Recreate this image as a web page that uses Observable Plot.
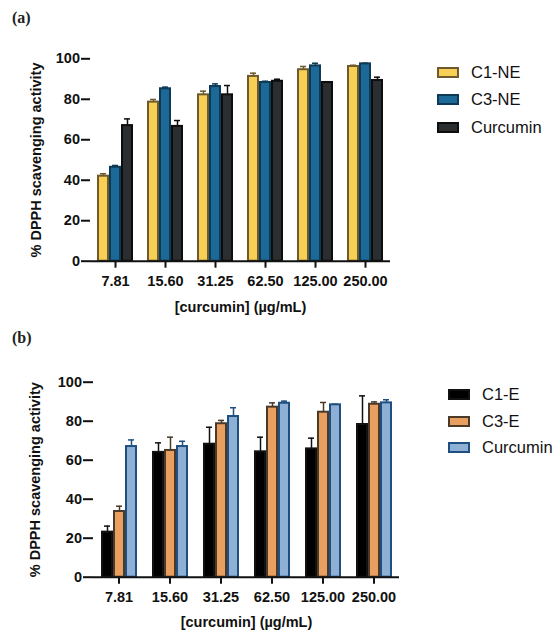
<!DOCTYPE html>
<html><head><meta charset="utf-8">
<script src="https://cdn.jsdelivr.net/npm/d3@7"></script>
<script src="https://cdn.jsdelivr.net/npm/@observablehq/plot@0.6"></script>
<style>
body{margin:0;background:#fff;}
#root{position:relative;width:559px;height:630px;overflow:hidden;font-family:"Liberation Sans",Arial,sans-serif;}
.panel{position:absolute;left:0;}
.tag{position:absolute;font-family:"Liberation Serif","Times New Roman",serif;font-weight:bold;font-size:16px;line-height:16px;color:#222;}
.legend-item{position:absolute;height:20px;display:flex;align-items:center;font-size:16.5px;color:#111;white-space:nowrap;}
.sw{width:18px;height:7px;border:2px solid;margin-right:12px;}
</style></head><body><div id="root"></div>
<script>
// ---------- data ----------
const concentrations = ["7.81", "15.60", "31.25", "62.50", "125.00", "250.00"];
const yTicks = [0, 20, 40, 60, 80, 100];

// panel (a)
const seriesA = ["C1-NE", "C3-NE", "Curcumin"];
const c1ne = [42.0, 78.6, 82.2, 91.3, 94.6, 96.2];
const c1neErr = [1.2, 1.3, 1.8, 1.6, 1.6, 0.6];
const c3ne = [46.4, 85.2, 86.3, 88.3, 96.5, 97.5];
const c3neErr = [0.9, 0.8, 1.3, 0.6, 1.3, 0.3];
const curA = [67.0, 66.6, 82.2, 88.9, 88.3, 89.3];
const curAErr = [3.3, 2.9, 4.6, 1.0, 0.3, 1.6];

// panel (b)
const seriesB = ["C1-E", "C3-E", "Curcumin"];
const c1e = [23.1, 64.0, 68.2, 64.3, 65.8, 78.3];
const c1eErr = [3.1, 4.9, 8.7, 7.5, 5.5, 14.7];
const c3e = [33.7, 65.0, 78.7, 87.2, 84.6, 88.7];
const c3eErr = [2.7, 6.8, 1.7, 2.2, 5.0, 1.2];
const curB = [67.0, 67.0, 82.4, 89.2, 88.4, 89.4];
const curBErr = [3.4, 2.7, 4.5, 1.1, 0.3, 1.6];

// ---------- styles ----------
const fillsA = ["#f8cf55", "#1c6896", "#2b2e31"];
const strokesA = ["#6e5a2c", "#0f3a55", "#0d0d0d"];
const fillsB = ["#000000", "#e99f5f", "#8eb0d4"];
const strokesB = ["#111111", "#4b3a2a", "#1e4f80"];

const root = document.getElementById("root");

function buildRows(series, values, errors, fills, strokes) {
  return concentrations.flatMap((c, i) => series.map((s, j) => ({
    conc: c, series: s, value: values[j][i], err: errors[j][i], fill: fills[j], stroke: strokes[j]
  })));
}

function panel(cfg) {
  const rows = buildRows(cfg.series, cfg.values, cfg.errors, cfg.fills, cfg.strokes);
  const chart = Plot.plot({
    width: cfg.width, height: cfg.height,
    marginLeft: cfg.ml, marginRight: cfg.mr, marginTop: cfg.mt, marginBottom: cfg.mb,
    style: {fontFamily: "'Liberation Sans', Arial, sans-serif", fontSize: "14.5px", fontWeight: "bold", color: "#111", background: "transparent"},
    fx: {domain: concentrations, padding: 0},
    x: {domain: cfg.series, paddingInner: 0, paddingOuter: 0.5, axis: null},
    y: {domain: [0, 100]},
    color: {type: "identity"},
    marks: [
      Plot.ruleX(rows, {fx: "conc", x: "series", y1: "value", y2: d => d.value + d.err, stroke: "stroke", strokeWidth: 1.5}),
      Plot.tickY(rows, {fx: "conc", x: "series", y: d => d.value + d.err, stroke: "stroke", strokeWidth: 1.5, insetLeft: 3, insetRight: 3}),
      Plot.barY(rows, {fx: "conc", x: "series", y: "value", fill: "fill", stroke: "stroke", strokeWidth: 2, insetLeft: 1, insetRight: 1}),
      Plot.ruleY([0], {strokeWidth: 2}),
      Plot.axisY({anchor: "left", ticks: yTicks, tickSize: cfg.yTickSize, tickPadding: 1.5, strokeWidth: 2, line: true,
        label: "% DPPH scavenging activity", labelAnchor: "center", labelOffset: cfg.yLabelOffset, labelArrow: false}),
      Plot.axisFx({anchor: "bottom", tickSize: 7, tickPadding: 8, strokeWidth: 2,
        label: "[curcumin] (µg/mL)", labelAnchor: "center", labelOffset: cfg.xLabelOffset, labelArrow: false})
    ]
  });
  chart.classList.add("panel");
  chart.style.top = cfg.top + "px";
  root.appendChild(chart);

  const tag = document.createElement("div");
  tag.className = "tag";
  tag.textContent = cfg.tag;
  tag.style.left = cfg.tagX + "px";
  tag.style.top = cfg.tagY + "px";
  root.appendChild(tag);

  cfg.series.forEach((s, j) => {
    const item = document.createElement("div");
    item.className = "legend-item";
    item.style.left = cfg.legX + "px";
    item.style.top = (cfg.legY + j * cfg.legStep - 10) + "px";
    const sw = document.createElement("span");
    sw.className = "sw";
    sw.style.background = cfg.fills[j];
    sw.style.borderColor = cfg.strokes[j];
    item.appendChild(sw);
    item.appendChild(document.createTextNode(s));
    root.appendChild(item);
  });
}

panel({
  tag: "(a)", tagX: 12, tagY: 10,
  series: seriesA, values: [c1ne, c3ne, curA], errors: [c1neErr, c3neErr, curAErr],
  fills: fillsA, strokes: strokesA,
  top: 0, width: 420, height: 320, ml: 87, mr: 27.5, mt: 58.3, mb: 59.3,
  yTickSize: 9, yLabelOffset: 60, xLabelOffset: 51,
  legX: 437, legY: 72, legStep: 27.5
});

panel({
  tag: "(b)", tagX: 12, tagY: 330,
  series: seriesB, values: [c1e, c3e, curB], errors: [c1eErr, c3eErr, curBErr],
  fills: fillsB, strokes: strokesB,
  top: 320, width: 430, height: 310, ml: 91, mr: 28.8, mt: 61.7, mb: 53.3,
  yTickSize: 10, yLabelOffset: 64, xLabelOffset: 50,
  legX: 448, legY: 394.3, legStep: 26.7
});
</script>
</body></html>
